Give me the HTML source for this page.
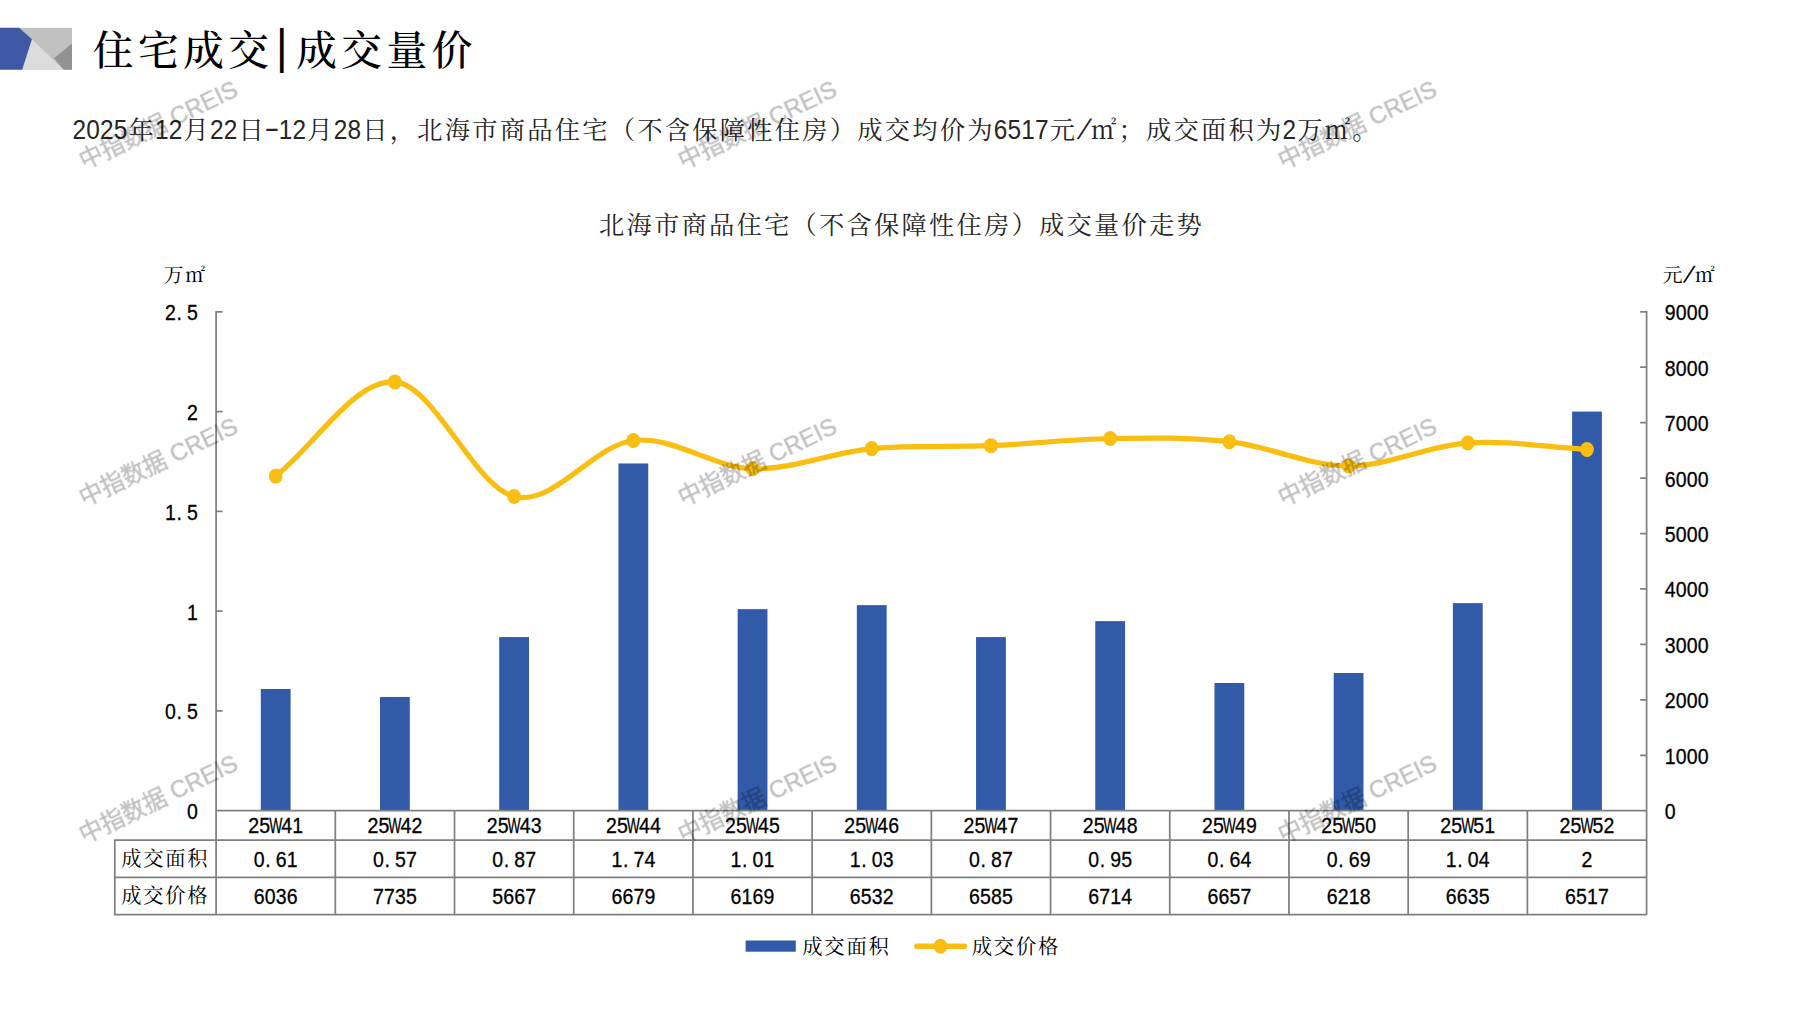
<!DOCTYPE html>
<html lang="zh-CN"><head><meta charset="utf-8"><title>住宅成交|成交量价</title>
<style>html,body{margin:0;padding:0;background:#fff;}body{width:1797px;height:1010px;overflow:hidden;}svg{display:block;}text{white-space:pre;}</style></head>
<body>
<svg width="1797" height="1010" viewBox="0 0 1797 1010">
<rect width="1797" height="1010" fill="#fff"/>
<g shape-rendering="geometricPrecision">
<rect x="18" y="27.8" width="54" height="41.9" fill="#c1c1c1"/>
<polygon points="31.9,39.3 63.8,69.7 20,69.7" fill="#dcdcdc"/>
<polygon points="54,58.3 72,43.4 72,69.7 63.8,69.7" fill="#929292"/>
<polygon points="0,27.8 19.1,27.8 31.9,39.3 22.2,69.7 0,69.7" fill="#4059a4"/>
</g>
<g><text x="92.76 137.96 183.16 228.36" y="64.50" font-family='"Liberation Serif","Noto Serif CJK SC",serif' font-weight="500" font-size="40.68" fill="#000">住宅成交</text><text transform="translate(281.80,63.30) scale(1.0,1.09)" x="0" y="0" text-anchor="middle" font-family='"Liberation Sans","Noto Sans CJK SC",sans-serif' font-size="44.52" fill="#000">|</text><text x="296.16 341.36 386.56 431.76" y="64.50" font-family='"Liberation Serif","Noto Serif CJK SC",serif' font-weight="500" font-size="40.68" fill="#000">成交量价</text></g>
<g><text transform="translate(72.50,138.70) scale(0.9,1)" x="7.64 22.92 38.19 53.47" y="0" text-anchor="middle" font-family='"Liberation Sans","Noto Sans CJK SC",sans-serif' font-size="27.09" fill="#262626">2025</text><text x="128.60" y="138.70" font-family='"Liberation Serif","Noto Serif CJK SC",serif' font-weight="400" font-size="25.30" fill="#262626">年</text><text transform="translate(155.00,138.70) scale(0.9,1)" x="7.64 22.92" y="0" text-anchor="middle" font-family='"Liberation Sans","Noto Sans CJK SC",sans-serif' font-size="27.09" fill="#262626">12</text><text x="183.60" y="138.70" font-family='"Liberation Serif","Noto Serif CJK SC",serif' font-weight="400" font-size="25.30" fill="#262626">月</text><text transform="translate(210.00,138.70) scale(0.9,1)" x="7.64 22.92" y="0" text-anchor="middle" font-family='"Liberation Sans","Noto Sans CJK SC",sans-serif' font-size="27.09" fill="#262626">22</text><text x="238.60" y="138.70" font-family='"Liberation Serif","Noto Serif CJK SC",serif' font-weight="400" font-size="25.30" fill="#262626">日</text><text transform="translate(271.88,137.10) scale(1.7,1)" x="0" y="0" text-anchor="middle" font-family='"Liberation Sans","Noto Sans CJK SC",sans-serif' font-size="27.09" fill="#262626">-</text><text transform="translate(278.75,138.70) scale(0.9,1)" x="7.64 22.92" y="0" text-anchor="middle" font-family='"Liberation Sans","Noto Sans CJK SC",sans-serif' font-size="27.09" fill="#262626">12</text><text x="307.35" y="138.70" font-family='"Liberation Serif","Noto Serif CJK SC",serif' font-weight="400" font-size="25.30" fill="#262626">月</text><text transform="translate(333.75,138.70) scale(0.9,1)" x="7.64 22.92" y="0" text-anchor="middle" font-family='"Liberation Sans","Noto Sans CJK SC",sans-serif' font-size="27.09" fill="#262626">28</text><text x="362.35 389.85 417.35 444.85 472.35 499.85 527.35 554.85 582.35 609.85 637.35 664.85 692.35 719.85 747.35 774.85 802.35 829.85 857.35 884.85 912.35 939.85 967.35" y="138.70" font-family='"Liberation Serif","Noto Serif CJK SC",serif' font-weight="400" font-size="25.30" fill="#262626">日，北海市商品住宅（不含保障性住房）成交均价为</text><text transform="translate(993.75,138.70) scale(0.9,1)" x="7.64 22.92 38.19 53.47" y="0" text-anchor="middle" font-family='"Liberation Sans","Noto Sans CJK SC",sans-serif' font-size="27.09" fill="#262626">6517</text><text x="1049.85" y="138.70" font-family='"Liberation Serif","Noto Serif CJK SC",serif' font-weight="400" font-size="25.30" fill="#262626">元</text><text transform="translate(1080.53,139.20) scale(1.0,1.05) skewX(-22)" x="0" y="0" text-anchor="middle" font-family='"Liberation Sans","Noto Sans CJK SC",sans-serif' font-size="27.09" fill="#262626">/</text><text x="1091.10 1118.60 1146.10 1173.60 1201.10 1228.60 1256.10" y="138.70" font-family='"Liberation Serif","Noto Serif CJK SC",serif' font-weight="400" font-size="25.30" fill="#262626">㎡；成交面积为</text><text transform="translate(1282.50,138.70) scale(0.9,1)" x="7.64" y="0" text-anchor="middle" font-family='"Liberation Sans","Noto Sans CJK SC",sans-serif' font-size="27.09" fill="#262626">2</text><text x="1297.35 1324.85 1352.35" y="138.70" font-family='"Liberation Serif","Noto Serif CJK SC",serif' font-weight="400" font-size="25.30" fill="#262626">万㎡。</text></g>
<g><text x="599.10 626.60 654.10 681.60 709.10 736.60 764.10 791.60 819.10 846.60 874.10 901.60 929.10 956.60 984.10 1011.60 1039.10 1066.60 1094.10 1121.60 1149.10 1176.60" y="234.00" font-family='"Liberation Serif","Noto Serif CJK SC",serif' font-weight="400" font-size="25.30" fill="#262626">北海市商品住宅（不含保障性住房）成交量价走势</text></g>
<rect x="260.80" y="688.97" width="29.8" height="121.73" fill="#315aa9"/>
<rect x="380.01" y="696.95" width="29.8" height="113.75" fill="#315aa9"/>
<rect x="499.22" y="637.08" width="29.8" height="173.62" fill="#315aa9"/>
<rect x="618.43" y="463.47" width="29.8" height="347.23" fill="#315aa9"/>
<rect x="737.64" y="609.14" width="29.8" height="201.56" fill="#315aa9"/>
<rect x="856.85" y="605.15" width="29.8" height="205.55" fill="#315aa9"/>
<rect x="976.05" y="637.08" width="29.8" height="173.62" fill="#315aa9"/>
<rect x="1095.26" y="621.12" width="29.8" height="189.58" fill="#315aa9"/>
<rect x="1214.47" y="682.98" width="29.8" height="127.72" fill="#315aa9"/>
<rect x="1333.68" y="673.00" width="29.8" height="137.70" fill="#315aa9"/>
<rect x="1452.89" y="603.16" width="29.8" height="207.54" fill="#315aa9"/>
<rect x="1572.10" y="411.58" width="29.8" height="399.12" fill="#315aa9"/>
<path d="M216.10 311.00L216.10 914.70M1646.60 311.00L1646.60 914.70M216.10 710.92L222.60 710.92M216.10 611.14L222.60 611.14M216.10 511.36L222.60 511.36M216.10 411.58L222.60 411.58M216.10 311.80L222.60 311.80M1640.10 755.27L1646.60 755.27M1640.10 699.83L1646.60 699.83M1640.10 644.40L1646.60 644.40M1640.10 588.97L1646.60 588.97M1640.10 533.53L1646.60 533.53M1640.10 478.10L1646.60 478.10M1640.10 422.67L1646.60 422.67M1640.10 367.23L1646.60 367.23M1640.10 311.80L1646.60 311.80M216.10 810.70L1646.60 810.70M114.80 840.10L1646.60 840.10M114.80 877.40L1646.60 877.40M114.80 914.70L1646.60 914.70M114.80 839.30L114.80 915.50M335.31 810.70L335.31 914.70M454.52 810.70L454.52 914.70M573.73 810.70L573.73 914.70M692.93 810.70L692.93 914.70M812.14 810.70L812.14 914.70M931.35 810.70L931.35 914.70M1050.56 810.70L1050.56 914.70M1169.77 810.70L1169.77 914.70M1288.97 810.70L1288.97 914.70M1408.18 810.70L1408.18 914.70M1527.39 810.70L1527.39 914.70" stroke="#808080" stroke-width="1.75" fill="none"/>
<path d="M275.70 476.10C315.44 444.71 355.18 378.51 394.91 381.92C434.65 385.33 474.38 486.80 514.12 496.56C553.86 506.32 593.59 445.10 633.33 440.46C673.07 435.82 712.80 467.37 752.54 468.73C792.27 470.09 832.01 452.45 871.75 448.61C911.48 444.77 951.22 447.35 990.95 445.67C1030.69 443.99 1070.43 439.19 1110.16 438.52C1149.90 437.86 1189.63 437.10 1229.37 441.68C1269.11 446.26 1308.84 465.81 1348.58 466.02C1388.32 466.22 1428.05 445.66 1467.79 442.90C1507.52 440.14 1547.26 447.26 1587.00 449.44" stroke="#f9be10" stroke-width="5.2" fill="none" stroke-linecap="round" stroke-linejoin="round"/>
<ellipse cx="275.70" cy="476.10" rx="6.9" ry="7.5" fill="#f9be10"/>
<ellipse cx="394.91" cy="381.92" rx="6.9" ry="7.5" fill="#f9be10"/>
<ellipse cx="514.12" cy="496.56" rx="6.9" ry="7.5" fill="#f9be10"/>
<ellipse cx="633.33" cy="440.46" rx="6.9" ry="7.5" fill="#f9be10"/>
<ellipse cx="752.54" cy="468.73" rx="6.9" ry="7.5" fill="#f9be10"/>
<ellipse cx="871.75" cy="448.61" rx="6.9" ry="7.5" fill="#f9be10"/>
<ellipse cx="990.95" cy="445.67" rx="6.9" ry="7.5" fill="#f9be10"/>
<ellipse cx="1110.16" cy="438.52" rx="6.9" ry="7.5" fill="#f9be10"/>
<ellipse cx="1229.37" cy="441.68" rx="6.9" ry="7.5" fill="#f9be10"/>
<ellipse cx="1348.58" cy="466.02" rx="6.9" ry="7.5" fill="#f9be10"/>
<ellipse cx="1467.79" cy="442.90" rx="6.9" ry="7.5" fill="#f9be10"/>
<ellipse cx="1587.00" cy="449.44" rx="6.9" ry="7.5" fill="#f9be10"/>
<g><text transform="translate(187.00,819.10) scale(0.9,1)" x="6.11" y="0" text-anchor="middle" font-family='"Liberation Sans","Noto Sans CJK SC",sans-serif' font-size="21.67" fill="#000" stroke="#000" stroke-width="0.3">0</text></g>
<g><text transform="translate(165.00,719.32) scale(0.9,1)" x="6.11 15.89 30.56" y="0" text-anchor="middle" font-family='"Liberation Sans","Noto Sans CJK SC",sans-serif' font-size="21.67" fill="#000" stroke="#000" stroke-width="0.3">0.5</text></g>
<g><text transform="translate(187.00,619.54) scale(0.9,1)" x="6.11" y="0" text-anchor="middle" font-family='"Liberation Sans","Noto Sans CJK SC",sans-serif' font-size="21.67" fill="#000" stroke="#000" stroke-width="0.3">1</text></g>
<g><text transform="translate(165.00,519.76) scale(0.9,1)" x="6.11 15.89 30.56" y="0" text-anchor="middle" font-family='"Liberation Sans","Noto Sans CJK SC",sans-serif' font-size="21.67" fill="#000" stroke="#000" stroke-width="0.3">1.5</text></g>
<g><text transform="translate(187.00,419.98) scale(0.9,1)" x="6.11" y="0" text-anchor="middle" font-family='"Liberation Sans","Noto Sans CJK SC",sans-serif' font-size="21.67" fill="#000" stroke="#000" stroke-width="0.3">2</text></g>
<g><text transform="translate(165.00,320.20) scale(0.9,1)" x="6.11 15.89 30.56" y="0" text-anchor="middle" font-family='"Liberation Sans","Noto Sans CJK SC",sans-serif' font-size="21.67" fill="#000" stroke="#000" stroke-width="0.3">2.5</text></g>
<g><text transform="translate(1664.60,819.10) scale(0.9,1)" x="6.11" y="0" text-anchor="middle" font-family='"Liberation Sans","Noto Sans CJK SC",sans-serif' font-size="21.67" fill="#000" stroke="#000" stroke-width="0.3">0</text></g>
<g><text transform="translate(1664.60,763.67) scale(0.9,1)" x="6.11 18.33 30.56 42.78" y="0" text-anchor="middle" font-family='"Liberation Sans","Noto Sans CJK SC",sans-serif' font-size="21.67" fill="#000" stroke="#000" stroke-width="0.3">1000</text></g>
<g><text transform="translate(1664.60,708.23) scale(0.9,1)" x="6.11 18.33 30.56 42.78" y="0" text-anchor="middle" font-family='"Liberation Sans","Noto Sans CJK SC",sans-serif' font-size="21.67" fill="#000" stroke="#000" stroke-width="0.3">2000</text></g>
<g><text transform="translate(1664.60,652.80) scale(0.9,1)" x="6.11 18.33 30.56 42.78" y="0" text-anchor="middle" font-family='"Liberation Sans","Noto Sans CJK SC",sans-serif' font-size="21.67" fill="#000" stroke="#000" stroke-width="0.3">3000</text></g>
<g><text transform="translate(1664.60,597.37) scale(0.9,1)" x="6.11 18.33 30.56 42.78" y="0" text-anchor="middle" font-family='"Liberation Sans","Noto Sans CJK SC",sans-serif' font-size="21.67" fill="#000" stroke="#000" stroke-width="0.3">4000</text></g>
<g><text transform="translate(1664.60,541.93) scale(0.9,1)" x="6.11 18.33 30.56 42.78" y="0" text-anchor="middle" font-family='"Liberation Sans","Noto Sans CJK SC",sans-serif' font-size="21.67" fill="#000" stroke="#000" stroke-width="0.3">5000</text></g>
<g><text transform="translate(1664.60,486.50) scale(0.9,1)" x="6.11 18.33 30.56 42.78" y="0" text-anchor="middle" font-family='"Liberation Sans","Noto Sans CJK SC",sans-serif' font-size="21.67" fill="#000" stroke="#000" stroke-width="0.3">6000</text></g>
<g><text transform="translate(1664.60,431.07) scale(0.9,1)" x="6.11 18.33 30.56 42.78" y="0" text-anchor="middle" font-family='"Liberation Sans","Noto Sans CJK SC",sans-serif' font-size="21.67" fill="#000" stroke="#000" stroke-width="0.3">7000</text></g>
<g><text transform="translate(1664.60,375.63) scale(0.9,1)" x="6.11 18.33 30.56 42.78" y="0" text-anchor="middle" font-family='"Liberation Sans","Noto Sans CJK SC",sans-serif' font-size="21.67" fill="#000" stroke="#000" stroke-width="0.3">8000</text></g>
<g><text transform="translate(1664.60,320.20) scale(0.9,1)" x="6.11 18.33 30.56 42.78" y="0" text-anchor="middle" font-family='"Liberation Sans","Noto Sans CJK SC",sans-serif' font-size="21.67" fill="#000" stroke="#000" stroke-width="0.3">9000</text></g>
<g><text x="163.86 185.36" y="281.50" font-family='"Liberation Serif","Noto Serif CJK SC",serif' font-weight="400" font-size="19.78" fill="#000">万㎡</text></g>
<g><text x="1662.86" y="281.50" font-family='"Liberation Serif","Noto Serif CJK SC",serif' font-weight="400" font-size="19.78" fill="#000">元</text><text transform="translate(1686.28,282.00) scale(1.0,1.05) skewX(-22)" x="0" y="0" text-anchor="middle" font-family='"Liberation Sans","Noto Sans CJK SC",sans-serif' font-size="21.18" fill="#000" stroke="#000" stroke-width="0.3">/</text><text x="1695.11" y="281.50" font-family='"Liberation Serif","Noto Serif CJK SC",serif' font-weight="400" font-size="19.78" fill="#000">㎡</text></g>
<g><text transform="translate(248.20,833.30) scale(0.9,1)" x="6.11 18.33" y="0" text-anchor="middle" font-family='"Liberation Sans","Noto Sans CJK SC",sans-serif' font-size="21.67" fill="#000" stroke="#000" stroke-width="0.3">25</text><text transform="translate(275.70,833.30) scale(0.64,1)" x="0" y="0" text-anchor="middle" font-family='"Liberation Sans","Noto Sans CJK SC",sans-serif' font-size="21.67" fill="#000" stroke="#000" stroke-width="0.3">W</text><text transform="translate(281.20,833.30) scale(0.9,1)" x="6.11 18.33" y="0" text-anchor="middle" font-family='"Liberation Sans","Noto Sans CJK SC",sans-serif' font-size="21.67" fill="#000" stroke="#000" stroke-width="0.3">41</text></g>
<g><text transform="translate(253.70,866.80) scale(0.9,1)" x="6.11 15.89 30.56 42.78" y="0" text-anchor="middle" font-family='"Liberation Sans","Noto Sans CJK SC",sans-serif' font-size="21.67" fill="#000" stroke="#000" stroke-width="0.3">0.61</text></g>
<g><text transform="translate(253.70,904.00) scale(0.9,1)" x="6.11 18.33 30.56 42.78" y="0" text-anchor="middle" font-family='"Liberation Sans","Noto Sans CJK SC",sans-serif' font-size="21.67" fill="#000" stroke="#000" stroke-width="0.3">6036</text></g>
<g><text transform="translate(367.41,833.30) scale(0.9,1)" x="6.11 18.33" y="0" text-anchor="middle" font-family='"Liberation Sans","Noto Sans CJK SC",sans-serif' font-size="21.67" fill="#000" stroke="#000" stroke-width="0.3">25</text><text transform="translate(394.91,833.30) scale(0.64,1)" x="0" y="0" text-anchor="middle" font-family='"Liberation Sans","Noto Sans CJK SC",sans-serif' font-size="21.67" fill="#000" stroke="#000" stroke-width="0.3">W</text><text transform="translate(400.41,833.30) scale(0.9,1)" x="6.11 18.33" y="0" text-anchor="middle" font-family='"Liberation Sans","Noto Sans CJK SC",sans-serif' font-size="21.67" fill="#000" stroke="#000" stroke-width="0.3">42</text></g>
<g><text transform="translate(372.91,866.80) scale(0.9,1)" x="6.11 15.89 30.56 42.78" y="0" text-anchor="middle" font-family='"Liberation Sans","Noto Sans CJK SC",sans-serif' font-size="21.67" fill="#000" stroke="#000" stroke-width="0.3">0.57</text></g>
<g><text transform="translate(372.91,904.00) scale(0.9,1)" x="6.11 18.33 30.56 42.78" y="0" text-anchor="middle" font-family='"Liberation Sans","Noto Sans CJK SC",sans-serif' font-size="21.67" fill="#000" stroke="#000" stroke-width="0.3">7735</text></g>
<g><text transform="translate(486.62,833.30) scale(0.9,1)" x="6.11 18.33" y="0" text-anchor="middle" font-family='"Liberation Sans","Noto Sans CJK SC",sans-serif' font-size="21.67" fill="#000" stroke="#000" stroke-width="0.3">25</text><text transform="translate(514.12,833.30) scale(0.64,1)" x="0" y="0" text-anchor="middle" font-family='"Liberation Sans","Noto Sans CJK SC",sans-serif' font-size="21.67" fill="#000" stroke="#000" stroke-width="0.3">W</text><text transform="translate(519.62,833.30) scale(0.9,1)" x="6.11 18.33" y="0" text-anchor="middle" font-family='"Liberation Sans","Noto Sans CJK SC",sans-serif' font-size="21.67" fill="#000" stroke="#000" stroke-width="0.3">43</text></g>
<g><text transform="translate(492.12,866.80) scale(0.9,1)" x="6.11 15.89 30.56 42.78" y="0" text-anchor="middle" font-family='"Liberation Sans","Noto Sans CJK SC",sans-serif' font-size="21.67" fill="#000" stroke="#000" stroke-width="0.3">0.87</text></g>
<g><text transform="translate(492.12,904.00) scale(0.9,1)" x="6.11 18.33 30.56 42.78" y="0" text-anchor="middle" font-family='"Liberation Sans","Noto Sans CJK SC",sans-serif' font-size="21.67" fill="#000" stroke="#000" stroke-width="0.3">5667</text></g>
<g><text transform="translate(605.83,833.30) scale(0.9,1)" x="6.11 18.33" y="0" text-anchor="middle" font-family='"Liberation Sans","Noto Sans CJK SC",sans-serif' font-size="21.67" fill="#000" stroke="#000" stroke-width="0.3">25</text><text transform="translate(633.33,833.30) scale(0.64,1)" x="0" y="0" text-anchor="middle" font-family='"Liberation Sans","Noto Sans CJK SC",sans-serif' font-size="21.67" fill="#000" stroke="#000" stroke-width="0.3">W</text><text transform="translate(638.83,833.30) scale(0.9,1)" x="6.11 18.33" y="0" text-anchor="middle" font-family='"Liberation Sans","Noto Sans CJK SC",sans-serif' font-size="21.67" fill="#000" stroke="#000" stroke-width="0.3">44</text></g>
<g><text transform="translate(611.33,866.80) scale(0.9,1)" x="6.11 15.89 30.56 42.78" y="0" text-anchor="middle" font-family='"Liberation Sans","Noto Sans CJK SC",sans-serif' font-size="21.67" fill="#000" stroke="#000" stroke-width="0.3">1.74</text></g>
<g><text transform="translate(611.33,904.00) scale(0.9,1)" x="6.11 18.33 30.56 42.78" y="0" text-anchor="middle" font-family='"Liberation Sans","Noto Sans CJK SC",sans-serif' font-size="21.67" fill="#000" stroke="#000" stroke-width="0.3">6679</text></g>
<g><text transform="translate(725.04,833.30) scale(0.9,1)" x="6.11 18.33" y="0" text-anchor="middle" font-family='"Liberation Sans","Noto Sans CJK SC",sans-serif' font-size="21.67" fill="#000" stroke="#000" stroke-width="0.3">25</text><text transform="translate(752.54,833.30) scale(0.64,1)" x="0" y="0" text-anchor="middle" font-family='"Liberation Sans","Noto Sans CJK SC",sans-serif' font-size="21.67" fill="#000" stroke="#000" stroke-width="0.3">W</text><text transform="translate(758.04,833.30) scale(0.9,1)" x="6.11 18.33" y="0" text-anchor="middle" font-family='"Liberation Sans","Noto Sans CJK SC",sans-serif' font-size="21.67" fill="#000" stroke="#000" stroke-width="0.3">45</text></g>
<g><text transform="translate(730.54,866.80) scale(0.9,1)" x="6.11 15.89 30.56 42.78" y="0" text-anchor="middle" font-family='"Liberation Sans","Noto Sans CJK SC",sans-serif' font-size="21.67" fill="#000" stroke="#000" stroke-width="0.3">1.01</text></g>
<g><text transform="translate(730.54,904.00) scale(0.9,1)" x="6.11 18.33 30.56 42.78" y="0" text-anchor="middle" font-family='"Liberation Sans","Noto Sans CJK SC",sans-serif' font-size="21.67" fill="#000" stroke="#000" stroke-width="0.3">6169</text></g>
<g><text transform="translate(844.25,833.30) scale(0.9,1)" x="6.11 18.33" y="0" text-anchor="middle" font-family='"Liberation Sans","Noto Sans CJK SC",sans-serif' font-size="21.67" fill="#000" stroke="#000" stroke-width="0.3">25</text><text transform="translate(871.75,833.30) scale(0.64,1)" x="0" y="0" text-anchor="middle" font-family='"Liberation Sans","Noto Sans CJK SC",sans-serif' font-size="21.67" fill="#000" stroke="#000" stroke-width="0.3">W</text><text transform="translate(877.25,833.30) scale(0.9,1)" x="6.11 18.33" y="0" text-anchor="middle" font-family='"Liberation Sans","Noto Sans CJK SC",sans-serif' font-size="21.67" fill="#000" stroke="#000" stroke-width="0.3">46</text></g>
<g><text transform="translate(849.75,866.80) scale(0.9,1)" x="6.11 15.89 30.56 42.78" y="0" text-anchor="middle" font-family='"Liberation Sans","Noto Sans CJK SC",sans-serif' font-size="21.67" fill="#000" stroke="#000" stroke-width="0.3">1.03</text></g>
<g><text transform="translate(849.75,904.00) scale(0.9,1)" x="6.11 18.33 30.56 42.78" y="0" text-anchor="middle" font-family='"Liberation Sans","Noto Sans CJK SC",sans-serif' font-size="21.67" fill="#000" stroke="#000" stroke-width="0.3">6532</text></g>
<g><text transform="translate(963.45,833.30) scale(0.9,1)" x="6.11 18.33" y="0" text-anchor="middle" font-family='"Liberation Sans","Noto Sans CJK SC",sans-serif' font-size="21.67" fill="#000" stroke="#000" stroke-width="0.3">25</text><text transform="translate(990.95,833.30) scale(0.64,1)" x="0" y="0" text-anchor="middle" font-family='"Liberation Sans","Noto Sans CJK SC",sans-serif' font-size="21.67" fill="#000" stroke="#000" stroke-width="0.3">W</text><text transform="translate(996.45,833.30) scale(0.9,1)" x="6.11 18.33" y="0" text-anchor="middle" font-family='"Liberation Sans","Noto Sans CJK SC",sans-serif' font-size="21.67" fill="#000" stroke="#000" stroke-width="0.3">47</text></g>
<g><text transform="translate(968.95,866.80) scale(0.9,1)" x="6.11 15.89 30.56 42.78" y="0" text-anchor="middle" font-family='"Liberation Sans","Noto Sans CJK SC",sans-serif' font-size="21.67" fill="#000" stroke="#000" stroke-width="0.3">0.87</text></g>
<g><text transform="translate(968.95,904.00) scale(0.9,1)" x="6.11 18.33 30.56 42.78" y="0" text-anchor="middle" font-family='"Liberation Sans","Noto Sans CJK SC",sans-serif' font-size="21.67" fill="#000" stroke="#000" stroke-width="0.3">6585</text></g>
<g><text transform="translate(1082.66,833.30) scale(0.9,1)" x="6.11 18.33" y="0" text-anchor="middle" font-family='"Liberation Sans","Noto Sans CJK SC",sans-serif' font-size="21.67" fill="#000" stroke="#000" stroke-width="0.3">25</text><text transform="translate(1110.16,833.30) scale(0.64,1)" x="0" y="0" text-anchor="middle" font-family='"Liberation Sans","Noto Sans CJK SC",sans-serif' font-size="21.67" fill="#000" stroke="#000" stroke-width="0.3">W</text><text transform="translate(1115.66,833.30) scale(0.9,1)" x="6.11 18.33" y="0" text-anchor="middle" font-family='"Liberation Sans","Noto Sans CJK SC",sans-serif' font-size="21.67" fill="#000" stroke="#000" stroke-width="0.3">48</text></g>
<g><text transform="translate(1088.16,866.80) scale(0.9,1)" x="6.11 15.89 30.56 42.78" y="0" text-anchor="middle" font-family='"Liberation Sans","Noto Sans CJK SC",sans-serif' font-size="21.67" fill="#000" stroke="#000" stroke-width="0.3">0.95</text></g>
<g><text transform="translate(1088.16,904.00) scale(0.9,1)" x="6.11 18.33 30.56 42.78" y="0" text-anchor="middle" font-family='"Liberation Sans","Noto Sans CJK SC",sans-serif' font-size="21.67" fill="#000" stroke="#000" stroke-width="0.3">6714</text></g>
<g><text transform="translate(1201.87,833.30) scale(0.9,1)" x="6.11 18.33" y="0" text-anchor="middle" font-family='"Liberation Sans","Noto Sans CJK SC",sans-serif' font-size="21.67" fill="#000" stroke="#000" stroke-width="0.3">25</text><text transform="translate(1229.37,833.30) scale(0.64,1)" x="0" y="0" text-anchor="middle" font-family='"Liberation Sans","Noto Sans CJK SC",sans-serif' font-size="21.67" fill="#000" stroke="#000" stroke-width="0.3">W</text><text transform="translate(1234.87,833.30) scale(0.9,1)" x="6.11 18.33" y="0" text-anchor="middle" font-family='"Liberation Sans","Noto Sans CJK SC",sans-serif' font-size="21.67" fill="#000" stroke="#000" stroke-width="0.3">49</text></g>
<g><text transform="translate(1207.37,866.80) scale(0.9,1)" x="6.11 15.89 30.56 42.78" y="0" text-anchor="middle" font-family='"Liberation Sans","Noto Sans CJK SC",sans-serif' font-size="21.67" fill="#000" stroke="#000" stroke-width="0.3">0.64</text></g>
<g><text transform="translate(1207.37,904.00) scale(0.9,1)" x="6.11 18.33 30.56 42.78" y="0" text-anchor="middle" font-family='"Liberation Sans","Noto Sans CJK SC",sans-serif' font-size="21.67" fill="#000" stroke="#000" stroke-width="0.3">6657</text></g>
<g><text transform="translate(1321.08,833.30) scale(0.9,1)" x="6.11 18.33" y="0" text-anchor="middle" font-family='"Liberation Sans","Noto Sans CJK SC",sans-serif' font-size="21.67" fill="#000" stroke="#000" stroke-width="0.3">25</text><text transform="translate(1348.58,833.30) scale(0.64,1)" x="0" y="0" text-anchor="middle" font-family='"Liberation Sans","Noto Sans CJK SC",sans-serif' font-size="21.67" fill="#000" stroke="#000" stroke-width="0.3">W</text><text transform="translate(1354.08,833.30) scale(0.9,1)" x="6.11 18.33" y="0" text-anchor="middle" font-family='"Liberation Sans","Noto Sans CJK SC",sans-serif' font-size="21.67" fill="#000" stroke="#000" stroke-width="0.3">50</text></g>
<g><text transform="translate(1326.58,866.80) scale(0.9,1)" x="6.11 15.89 30.56 42.78" y="0" text-anchor="middle" font-family='"Liberation Sans","Noto Sans CJK SC",sans-serif' font-size="21.67" fill="#000" stroke="#000" stroke-width="0.3">0.69</text></g>
<g><text transform="translate(1326.58,904.00) scale(0.9,1)" x="6.11 18.33 30.56 42.78" y="0" text-anchor="middle" font-family='"Liberation Sans","Noto Sans CJK SC",sans-serif' font-size="21.67" fill="#000" stroke="#000" stroke-width="0.3">6218</text></g>
<g><text transform="translate(1440.29,833.30) scale(0.9,1)" x="6.11 18.33" y="0" text-anchor="middle" font-family='"Liberation Sans","Noto Sans CJK SC",sans-serif' font-size="21.67" fill="#000" stroke="#000" stroke-width="0.3">25</text><text transform="translate(1467.79,833.30) scale(0.64,1)" x="0" y="0" text-anchor="middle" font-family='"Liberation Sans","Noto Sans CJK SC",sans-serif' font-size="21.67" fill="#000" stroke="#000" stroke-width="0.3">W</text><text transform="translate(1473.29,833.30) scale(0.9,1)" x="6.11 18.33" y="0" text-anchor="middle" font-family='"Liberation Sans","Noto Sans CJK SC",sans-serif' font-size="21.67" fill="#000" stroke="#000" stroke-width="0.3">51</text></g>
<g><text transform="translate(1445.79,866.80) scale(0.9,1)" x="6.11 15.89 30.56 42.78" y="0" text-anchor="middle" font-family='"Liberation Sans","Noto Sans CJK SC",sans-serif' font-size="21.67" fill="#000" stroke="#000" stroke-width="0.3">1.04</text></g>
<g><text transform="translate(1445.79,904.00) scale(0.9,1)" x="6.11 18.33 30.56 42.78" y="0" text-anchor="middle" font-family='"Liberation Sans","Noto Sans CJK SC",sans-serif' font-size="21.67" fill="#000" stroke="#000" stroke-width="0.3">6635</text></g>
<g><text transform="translate(1559.50,833.30) scale(0.9,1)" x="6.11 18.33" y="0" text-anchor="middle" font-family='"Liberation Sans","Noto Sans CJK SC",sans-serif' font-size="21.67" fill="#000" stroke="#000" stroke-width="0.3">25</text><text transform="translate(1587.00,833.30) scale(0.64,1)" x="0" y="0" text-anchor="middle" font-family='"Liberation Sans","Noto Sans CJK SC",sans-serif' font-size="21.67" fill="#000" stroke="#000" stroke-width="0.3">W</text><text transform="translate(1592.50,833.30) scale(0.9,1)" x="6.11 18.33" y="0" text-anchor="middle" font-family='"Liberation Sans","Noto Sans CJK SC",sans-serif' font-size="21.67" fill="#000" stroke="#000" stroke-width="0.3">52</text></g>
<g><text transform="translate(1581.50,866.80) scale(0.9,1)" x="6.11" y="0" text-anchor="middle" font-family='"Liberation Sans","Noto Sans CJK SC",sans-serif' font-size="21.67" fill="#000" stroke="#000" stroke-width="0.3">2</text></g>
<g><text transform="translate(1565.00,904.00) scale(0.9,1)" x="6.11 18.33 30.56 42.78" y="0" text-anchor="middle" font-family='"Liberation Sans","Noto Sans CJK SC",sans-serif' font-size="21.67" fill="#000" stroke="#000" stroke-width="0.3">6517</text></g>
<g><text x="121.18 143.18 165.18 187.18" y="865.60" font-family='"Liberation Serif","Noto Serif CJK SC",serif' font-weight="400" font-size="20.24" fill="#000">成交面积</text></g>
<g><text x="121.18 143.18 165.18 187.18" y="903.20" font-family='"Liberation Serif","Noto Serif CJK SC",serif' font-weight="400" font-size="20.24" fill="#000">成交价格</text></g>
<rect x="745.6" y="940.5" width="50.2" height="11.2" fill="#315aa9"/>
<g><text x="802.18 824.28 846.38 868.48" y="954.00" font-family='"Liberation Serif","Noto Serif CJK SC",serif' font-weight="400" font-size="20.33" fill="#000">成交面积</text></g>
<path d="M916.8 946.3H964.5" stroke="#f9be10" stroke-width="5.4" stroke-linecap="round"/>
<ellipse cx="940.5" cy="946.3" rx="6.9" ry="7.5" fill="#f9be10"/>
<g><text x="971.68 993.78 1015.88 1037.98" y="954.00" font-family='"Liberation Serif","Noto Serif CJK SC",serif' font-weight="400" font-size="20.33" fill="#000">成交价格</text></g>
<g font-family='"Liberation Sans","Noto Sans CJK SC",sans-serif' font-size="23.5" fill="#000" stroke="#000" stroke-width="0.5" opacity="0.25" text-anchor="middle">
<text transform="translate(158.5,125) rotate(-25.5)" x="0" y="8">中指数据 CREIS</text>
<text transform="translate(757.5,125) rotate(-25.5)" x="0" y="8">中指数据 CREIS</text>
<text transform="translate(1357.5,125) rotate(-25.5)" x="0" y="8">中指数据 CREIS</text>
<text transform="translate(158.5,462) rotate(-25.5)" x="0" y="8">中指数据 CREIS</text>
<text transform="translate(757.5,462) rotate(-25.5)" x="0" y="8">中指数据 CREIS</text>
<text transform="translate(1357.5,462) rotate(-25.5)" x="0" y="8">中指数据 CREIS</text>
<text transform="translate(158.5,799) rotate(-25.5)" x="0" y="8">中指数据 CREIS</text>
<text transform="translate(757.5,799) rotate(-25.5)" x="0" y="8">中指数据 CREIS</text>
<text transform="translate(1357.5,799) rotate(-25.5)" x="0" y="8">中指数据 CREIS</text>
</g>
</svg>
</body></html>
